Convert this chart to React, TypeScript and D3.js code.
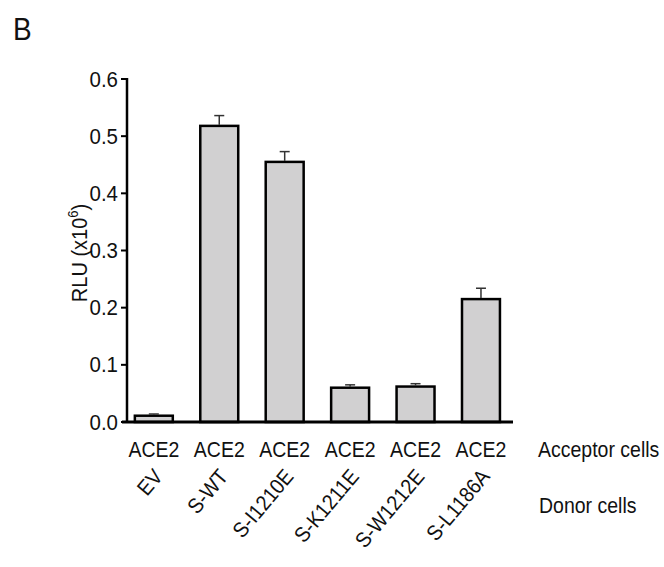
import React, { useRef, useEffect } from "react";
import * as d3 from "d3";

// donor constructs, all on ACE2 acceptor cells
const donors = ["EV", "S-WT", "S-I1210E", "S-K1211E", "S-W1212E", "S-L1186A"];
const acceptors = ["ACE2", "ACE2", "ACE2", "ACE2", "ACE2", "ACE2"];
const rlu = [0.011, 0.518, 0.455, 0.06, 0.062, 0.215];
const rluErr = [0.003, 0.018, 0.018, 0.005, 0.005, 0.019];
const yTicks = [0, 0.1, 0.2, 0.3, 0.4, 0.5, 0.6];

const FONT = "'Liberation Sans', Arial, sans-serif";
const STRETCH = 1.1;

const App = () => {
  const svgRef = useRef<SVGSVGElement>(null);

  useEffect(() => {
    const svg = d3.select(svgRef.current);
    svg.selectAll("*").remove();

    const x0 = 127;
    const yBottom = 422;
    const yTop = 79;

    const x = d3.scaleBand<string>()
      .domain(donors)
      .range([x0, 507.8])
      .paddingInner(0.42)
      .paddingOuter(0.12);

    const y = d3.scaleLinear().domain([0, 0.6]).range([yBottom, yTop]);

    const label = (g, tx, ty, txt, size, anchor = "start", rot = 0) =>
      g.append("text")
        .attr("transform", `translate(${tx},${ty}) rotate(${rot}) scale(1,${STRETCH})`)
        .attr("text-anchor", anchor)
        .style("font-family", FONT)
        .style("font-size", `${size}px`)
        .style("fill", "#111")
        .text(txt);

    // panel letter
    label(svg, 13, 40, "B", 28);

    // y axis
    const yAxis = svg.append("g");
    yAxis.append("line")
      .attr("x1", x0).attr("x2", x0)
      .attr("y1", yTop - 1).attr("y2", yBottom)
      .attr("stroke", "#000").attr("stroke-width", 2.5);
    yTicks.forEach(t => {
      yAxis.append("line")
        .attr("x1", x0 - 6).attr("x2", x0)
        .attr("y1", y(t)).attr("y2", y(t))
        .attr("stroke", "#000").attr("stroke-width", 2);
      label(yAxis, x0 - 9, y(t) + 7.5, t.toFixed(1), 20.5, "end");
    });

    // y title with superscript
    const title = svg.append("text")
      .attr("transform", `translate(87,253) rotate(-90) scale(1,${STRETCH})`)
      .attr("text-anchor", "middle")
      .style("font-family", FONT)
      .style("font-size", "20px")
      .style("fill", "#111");
    title.append("tspan").text("RLU (x10");
    title.append("tspan").attr("dy", -8).style("font-size", "13px").text("6");
    title.append("tspan").attr("dy", 8).text(")");

    // bars
    const bars = svg.append("g");
    bars.selectAll("rect")
      .data(rlu)
      .join("rect")
      .attr("x", (d, i) => x(donors[i]))
      .attr("y", d => y(d))
      .attr("width", x.bandwidth())
      .attr("height", d => yBottom - y(d))
      .attr("fill", "#d1d0d1")
      .attr("stroke", "#000")
      .attr("stroke-width", 2.5);

    // error bars (upper only)
    const err = svg.append("g").attr("stroke", "#333").attr("stroke-width", 1.5);
    rlu.forEach((d, i) => {
      const cx = x(donors[i]) + x.bandwidth() / 2;
      err.append("line")
        .attr("x1", cx).attr("x2", cx)
        .attr("y1", y(d) - 1).attr("y2", y(d + rluErr[i]));
      err.append("line")
        .attr("x1", cx - 5).attr("x2", cx + 5)
        .attr("y1", y(d + rluErr[i])).attr("y2", y(d + rluErr[i]));
    });

    // baseline
    svg.append("line")
      .attr("x1", x0 - 5).attr("x2", 513)
      .attr("y1", yBottom).attr("y2", yBottom)
      .attr("stroke", "#000").attr("stroke-width", 3);

    // acceptor and donor labels
    const xl = svg.append("g");
    acceptors.forEach((a, i) => {
      const cx = x(donors[i]) + x.bandwidth() / 2;
      label(xl, cx, 457, a, 19.5, "middle");
      label(xl, cx + 10, 477, donors[i], 19.5, "end", -50);
    });
    label(xl, 538, 457, "Acceptor cells", 19.5);
    label(xl, 539, 513, "Donor cells", 19.5);
  }, []);

  return (
    <svg
      ref={svgRef}
      width={664}
      height={567}
      style={{ position: "absolute", left: 0, top: 0, background: "#fff" }}
    />
  );
};

export default App;
